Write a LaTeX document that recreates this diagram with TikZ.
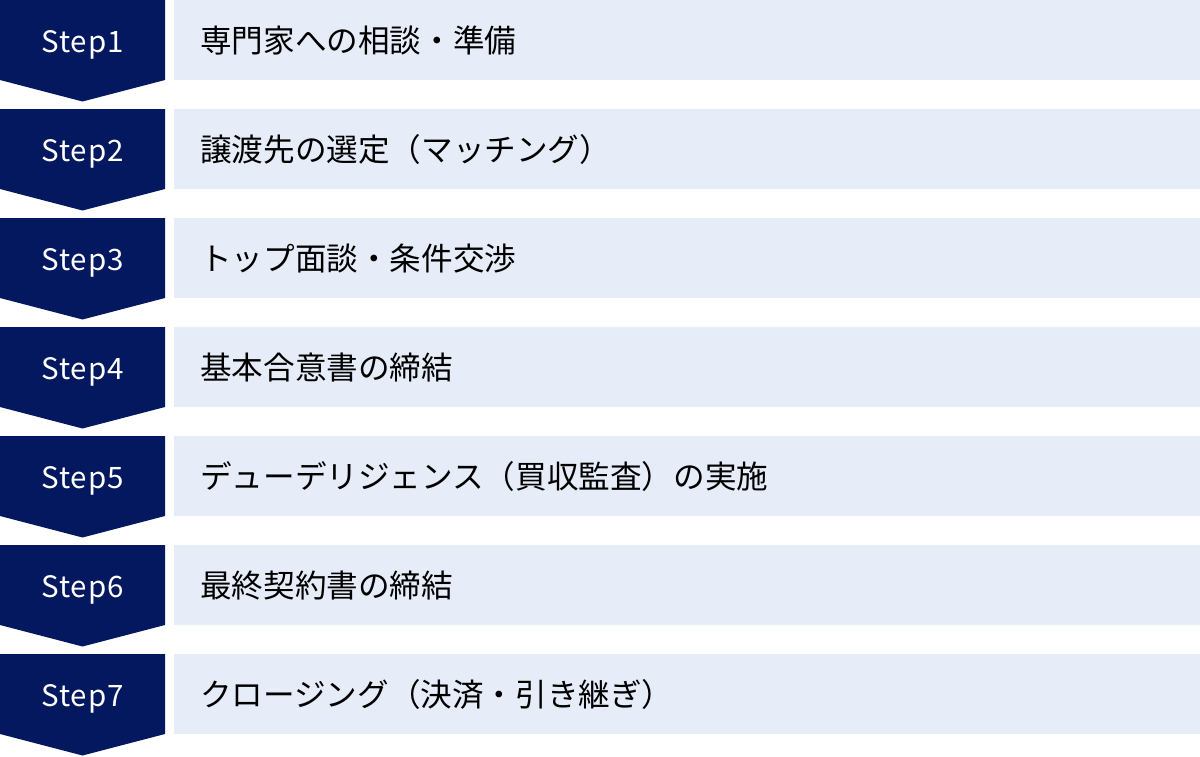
\documentclass[tikz,border=0pt]{standalone}
\usepackage{fontspec}
\setmainfont{Noto Sans}
\newfontfamily\jpfont{Noto Sans CJK JP}
\newfontfamily\stepfont[LetterSpace=4]{Noto Sans CJK JP}
\definecolor{navy}{HTML}{04185F}
\definecolor{pale}{HTML}{E6ECF8}
\begin{document}
\begin{tikzpicture}[x=1pt,y=-1pt,
  stepshape/.style={fill=navy,draw=none},
  barshape/.style={fill=pale,draw=none},
  steplabel/.style={anchor=base,text=white,inner sep=0pt,font=\stepfont\fontsize{29.5}{30}\selectfont},
  barlabel/.style={anchor=west,text=black,inner sep=0pt,font=\jpfont\fontsize{31.6}{32}\selectfont}]
\useasboundingbox (0,0) rectangle (1200,756);
\foreach \i/\t in {1/専門家への相談・準備,2/譲渡先の選定（マッチング）,3/トップ面談・条件交渉,4/基本合意書の締結,5/デューデリジェンス（買収監査）の実施,6/最終契約書の締結,7/クロージング（決済・引き継ぎ）}{
  \pgfmathsetmacro{\yy}{(\i-1)*109}
  \path[stepshape] (0,\yy) -- (165,\yy) -- (165,\yy+80) -- (82.5,\yy+101.5) -- (0,\yy+80) -- cycle;
  \path[barshape] (174,\yy) rectangle (1200,\yy+80);
  \node[steplabel] (s\i) at (82.7,\yy+52.3) {Step\i};
  \node[barlabel] (t\i) at (200,\yy+40.3) {\t};
}
\end{tikzpicture}
\end{document}
